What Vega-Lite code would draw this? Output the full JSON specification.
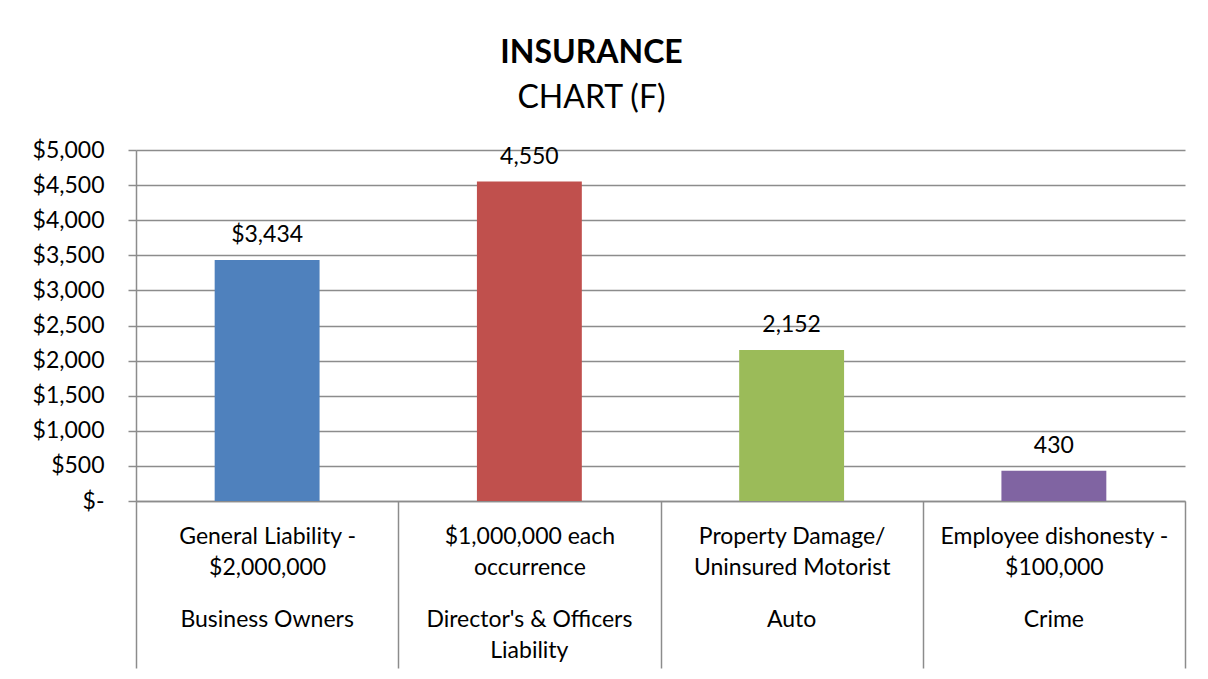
{
  "$schema": "https://vega.github.io/schema/vega-lite/v6.json",
  "width": 1049,
  "height": 351,
  "autosize": {"type": "none"},
  "padding": {"left": 136, "top": 150, "right": 23, "bottom": 178},
  "background": "#ffffff",
  "title": {
    "text": "INSURANCE",
    "subtitle": "CHART (F)",
    "font": "Lato",
    "fontSize": 32,
    "fontWeight": "bold",
    "color": "#000000",
    "subtitleFont": "Lato",
    "subtitleFontSize": 32,
    "subtitleFontWeight": "normal",
    "subtitleColor": "#000000",
    "subtitlePadding": 13,
    "anchor": "middle",
    "frame": "group",
    "dx": -69,
    "offset": 24
  },
  "data": {
    "values": [
      {"label": "General Liability  -|$2,000,000#Business Owners", "value": 3434, "valueLabel": "$3,434"},
      {"label": "$1,000,000 each|occurrence#Director's & Officers|Liability", "value": 4550, "valueLabel": "4,550"},
      {"label": "Property Damage/|Uninsured Motorist#Auto", "value": 2152, "valueLabel": "2,152"},
      {"label": "Employee dishonesty -|$100,000#Crime", "value": 430, "valueLabel": "430"}
    ]
  },
  "encoding": {
    "x": {
      "field": "label",
      "type": "nominal",
      "sort": null,
      "scale": {"paddingInner": 0, "paddingOuter": 0}
    },
    "y": {
      "field": "value",
      "type": "quantitative",
      "scale": {"domain": [0, 5000], "nice": false},
      "axis": {
        "title": null,
        "values": [0, 500, 1000, 1500, 2000, 2500, 3000, 3500, 4000, 4500, 5000],
        "labelExpr": "datum.value == 0 ? '$-' : '$' + format(datum.value, ',')",
        "grid": true,
        "gridColor": "#8c8c8c",
        "gridWidth": 1.5,
        "tickSize": 8,
        "tickColor": "#8c8c8c",
        "tickWidth": 1.5,
        "domainColor": "#8c8c8c",
        "domainWidth": 1.5,
        "labelPadding": 24,
        "labelFont": "Lato",
        "labelFontSize": 23,
        "labelColor": "#000000"
      }
    }
  },
  "layer": [
    {
      "mark": {"type": "bar", "width": {"band": 0.4}},
      "encoding": {
        "x": {
          "field": "label",
          "type": "nominal",
          "sort": null,
          "axis": {
            "title": null,
            "orient": "bottom",
            "labelExpr": "isString(datum.value) ? split(split(datum.value, '#')[0], '|') : ''",
            "labelAngle": 0,
            "tickBand": "extent",
            "tickSize": 167,
            "tickColor": "#8c8c8c",
            "tickWidth": 1.5,
            "domainColor": "#8c8c8c",
            "domainWidth": 1.5,
            "labelPadding": -143,
            "labelLineHeight": 31,
            "labelFont": "Lato",
            "labelFontSize": 23,
            "labelColor": "#000000",
            "labelBaseline": "top",
            "labelLimit": 0,
            "labelOverlap": false,
            "labelFlush": false,
            "grid": false
          }
        },
        "color": {
          "field": "label",
          "type": "nominal",
          "sort": null,
          "scale": {"range": ["#4F81BD", "#C0504D", "#9BBB59", "#8064A2"]},
          "legend": null
        }
      }
    },
    {
      "mark": {"type": "text", "baseline": "alphabetic", "dy": -18, "font": "Lato", "fontSize": 23, "color": "#000000"},
      "encoding": {
        "x": {
          "field": "label",
          "type": "nominal",
          "sort": null,
          "axis": {
            "title": null,
            "orient": "bottom",
            "labelExpr": "isString(datum.value) ? split(split(datum.value, '#')[1], '|') : ''",
            "labelAngle": 0,
            "ticks": false,
            "domain": false,
            "labelPadding": 107,
            "labelLineHeight": 31,
            "labelFont": "Lato",
            "labelFontSize": 23,
            "labelColor": "#000000",
            "labelBaseline": "top",
            "labelLimit": 0,
            "labelOverlap": false,
            "labelFlush": false,
            "grid": false
          }
        },
        "text": {"field": "valueLabel", "type": "nominal"}
      }
    }
  ],
  "resolve": {"axis": {"x": "independent"}},
  "config": {
    "view": {"stroke": null}
  }
}
